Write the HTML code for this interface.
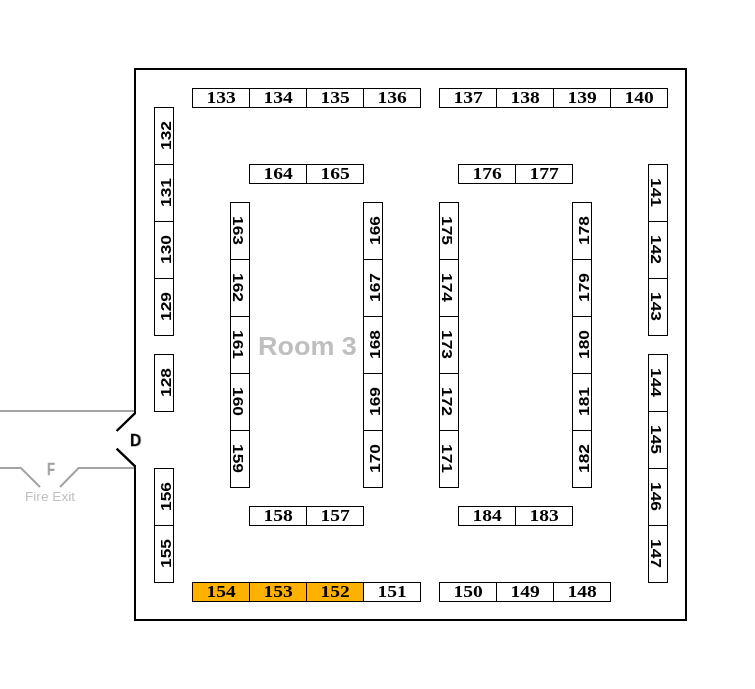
<!DOCTYPE html>
<html><head><meta charset="utf-8"><title>Room 3</title>
<style>
html,body{margin:0;padding:0;background:#fff;}
body{width:755px;height:689px;position:relative;overflow:hidden;font-family:"Liberation Sans",sans-serif;}
.c{position:absolute;box-sizing:border-box;border:1px solid #000;background:#fff;}
.c span{will-change:transform;position:absolute;left:50%;top:50%;white-space:nowrap;line-height:1;color:#000;font-weight:bold;}
.h span{font-family:"Liberation Serif",serif;font-size:16px;transform:translate(-50%,-50%) translate(0.2px,0px) scaleX(1.22);}
.u span{font-family:"Liberation Sans",sans-serif;font-size:15px;transform:translate(-50%,-50%) rotate(-90deg) translate(0.5px,1.5px) scale(1.16,1);}
.d span{font-family:"Liberation Sans",sans-serif;font-size:15px;transform:translate(-50%,-50%) rotate(90deg) translate(-0.5px,1.5px) scale(1.16,1);}
.t{will-change:transform;position:absolute;white-space:nowrap;line-height:1;font-family:"Liberation Sans",sans-serif;}
svg{position:absolute;left:0;top:0;}
</style></head><body>
<svg width="755" height="689" viewBox="0 0 755 689">
<g fill="none" stroke="#a3a3a3" stroke-width="2">
<path d="M0 411H134"/>
<path d="M0 468H20.9L40 487"/>
<path d="M60 487L78.6 468H134"/>
</g>
<path d="M135 413.6V69H686V620H135V465.8" fill="none" stroke="#000" stroke-width="2" stroke-linejoin="miter"/>
<path d="M116.6 431L135.4 412.8M116.6 448.6L135.4 466.6" fill="none" stroke="#000" stroke-width="2.4"/>
</svg>
<div class="c h" style="left:192px;top:88px;width:58px;height:20px;"><span>133</span></div>
<div class="c h" style="left:249px;top:88px;width:58px;height:20px;"><span>134</span></div>
<div class="c h" style="left:306px;top:88px;width:58px;height:20px;"><span>135</span></div>
<div class="c h" style="left:363px;top:88px;width:58px;height:20px;"><span>136</span></div>
<div class="c h" style="left:439px;top:88px;width:58px;height:20px;"><span>137</span></div>
<div class="c h" style="left:496px;top:88px;width:58px;height:20px;"><span>138</span></div>
<div class="c h" style="left:553px;top:88px;width:58px;height:20px;"><span>139</span></div>
<div class="c h" style="left:610px;top:88px;width:58px;height:20px;"><span>140</span></div>
<div class="c h" style="left:249px;top:164px;width:58px;height:20px;"><span>164</span></div>
<div class="c h" style="left:306px;top:164px;width:58px;height:20px;"><span>165</span></div>
<div class="c h" style="left:458px;top:164px;width:58px;height:20px;"><span>176</span></div>
<div class="c h" style="left:515px;top:164px;width:58px;height:20px;"><span>177</span></div>
<div class="c h" style="left:249px;top:506px;width:58px;height:20px;"><span>158</span></div>
<div class="c h" style="left:306px;top:506px;width:58px;height:20px;"><span>157</span></div>
<div class="c h" style="left:458px;top:506px;width:58px;height:20px;"><span>184</span></div>
<div class="c h" style="left:515px;top:506px;width:58px;height:20px;"><span>183</span></div>
<div class="c h" style="left:192px;top:582px;width:58px;height:20px;background:#ffb100;"><span>154</span></div>
<div class="c h" style="left:249px;top:582px;width:58px;height:20px;background:#ffb100;"><span>153</span></div>
<div class="c h" style="left:306px;top:582px;width:58px;height:20px;background:#ffb100;"><span>152</span></div>
<div class="c h" style="left:363px;top:582px;width:58px;height:20px;"><span>151</span></div>
<div class="c h" style="left:439px;top:582px;width:58px;height:20px;"><span>150</span></div>
<div class="c h" style="left:496px;top:582px;width:58px;height:20px;"><span>149</span></div>
<div class="c h" style="left:553px;top:582px;width:58px;height:20px;"><span>148</span></div>
<div class="c u" style="left:154px;top:107px;width:20px;height:58px;"><span>132</span></div>
<div class="c u" style="left:154px;top:164px;width:20px;height:58px;"><span>131</span></div>
<div class="c u" style="left:154px;top:221px;width:20px;height:58px;"><span>130</span></div>
<div class="c u" style="left:154px;top:278px;width:20px;height:58px;"><span>129</span></div>
<div class="c u" style="left:154px;top:354px;width:20px;height:58px;"><span>128</span></div>
<div class="c u" style="left:154px;top:468px;width:20px;height:58px;"><span>156</span></div>
<div class="c u" style="left:154px;top:525px;width:20px;height:58px;"><span>155</span></div>
<div class="c d" style="left:230px;top:202px;width:20px;height:58px;"><span>163</span></div>
<div class="c d" style="left:230px;top:259px;width:20px;height:58px;"><span>162</span></div>
<div class="c d" style="left:230px;top:316px;width:20px;height:58px;"><span>161</span></div>
<div class="c d" style="left:230px;top:373px;width:20px;height:58px;"><span>160</span></div>
<div class="c d" style="left:230px;top:430px;width:20px;height:58px;"><span>159</span></div>
<div class="c u" style="left:363px;top:202px;width:20px;height:58px;"><span>166</span></div>
<div class="c u" style="left:363px;top:259px;width:20px;height:58px;"><span>167</span></div>
<div class="c u" style="left:363px;top:316px;width:20px;height:58px;"><span>168</span></div>
<div class="c u" style="left:363px;top:373px;width:20px;height:58px;"><span>169</span></div>
<div class="c u" style="left:363px;top:430px;width:20px;height:58px;"><span>170</span></div>
<div class="c d" style="left:439px;top:202px;width:20px;height:58px;"><span>175</span></div>
<div class="c d" style="left:439px;top:259px;width:20px;height:58px;"><span>174</span></div>
<div class="c d" style="left:439px;top:316px;width:20px;height:58px;"><span>173</span></div>
<div class="c d" style="left:439px;top:373px;width:20px;height:58px;"><span>172</span></div>
<div class="c d" style="left:439px;top:430px;width:20px;height:58px;"><span>171</span></div>
<div class="c u" style="left:572px;top:202px;width:20px;height:58px;"><span>178</span></div>
<div class="c u" style="left:572px;top:259px;width:20px;height:58px;"><span>179</span></div>
<div class="c u" style="left:572px;top:316px;width:20px;height:58px;"><span>180</span></div>
<div class="c u" style="left:572px;top:373px;width:20px;height:58px;"><span>181</span></div>
<div class="c u" style="left:572px;top:430px;width:20px;height:58px;"><span>182</span></div>
<div class="c d" style="left:648px;top:164px;width:20px;height:58px;"><span>141</span></div>
<div class="c d" style="left:648px;top:221px;width:20px;height:58px;"><span>142</span></div>
<div class="c d" style="left:648px;top:278px;width:20px;height:58px;"><span>143</span></div>
<div class="c d" style="left:648px;top:354px;width:20px;height:58px;"><span>144</span></div>
<div class="c d" style="left:648px;top:411px;width:20px;height:58px;"><span>145</span></div>
<div class="c d" style="left:648px;top:468px;width:20px;height:58px;"><span>146</span></div>
<div class="c d" style="left:648px;top:525px;width:20px;height:58px;"><span>147</span></div>
<div class="t" id="room" style="left:257.8px;top:332.5px;font-size:26.3px;font-weight:bold;color:#bfbfbf;transform-origin:0 0;transform:scaleX(1.025);">Room 3</div>
<div class="t" id="dd" style="left:130px;top:432px;font-size:16.3px;font-weight:bold;-webkit-text-stroke:0.3px #000;color:#000;transform-origin:0 0;transform:scaleX(0.96);">D</div>
<div class="t" id="ff" style="left:46.6px;top:461px;font-size:16.2px;font-weight:bold;-webkit-text-stroke:0.4px #a0a0a0;color:#a0a0a0;transform-origin:0 0;transform:scaleX(0.8);">F</div>
<div class="t" id="fe" style="left:25.3px;top:491.2px;font-size:12px;color:#c0c0c0;transform-origin:0 0;transform:scaleX(1.137);">Fire Exit</div>
</body></html>
